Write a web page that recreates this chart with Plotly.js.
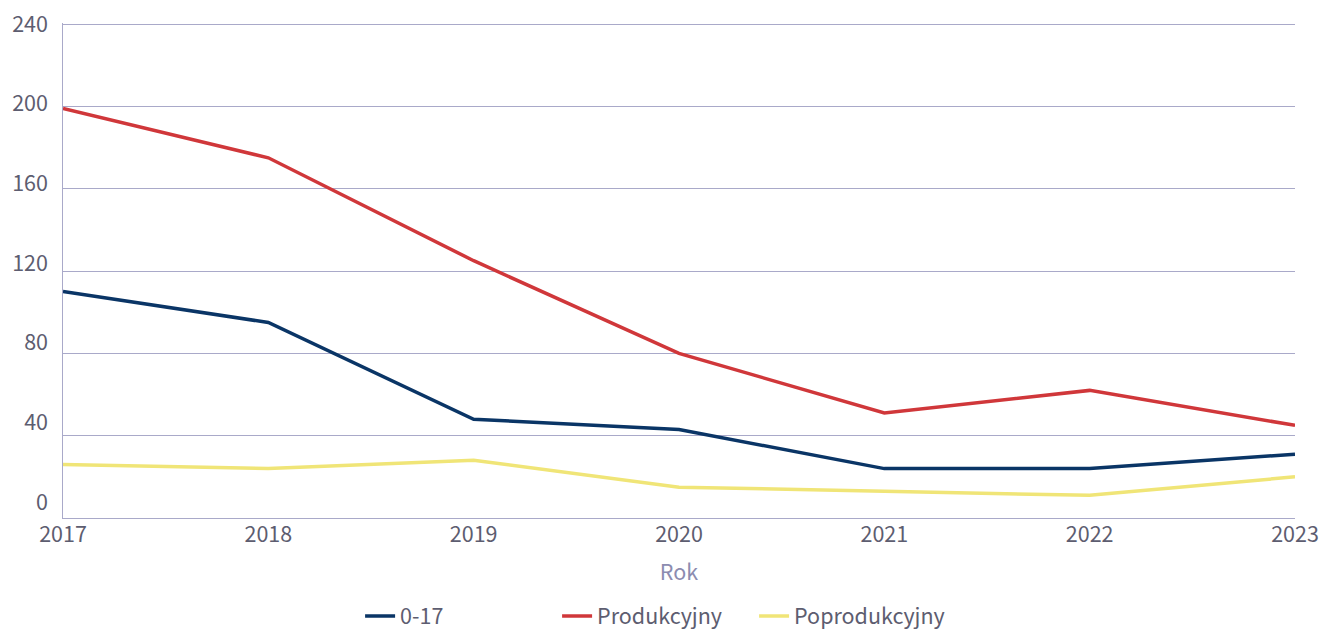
<!DOCTYPE html>
<html>
<head>
<meta charset="utf-8">
<script src="https://cdn.plot.ly/plotly-3.0.1.min.js"></script>
<style>html,body{margin:0;padding:0;background:#fff;}#chart{width:1319px;height:629px;}</style>
</head>
<body>
<div id="chart"></div>
<script>
const years = [2017, 2018, 2019, 2020, 2021, 2022, 2023];
const seriesNames = ['0-17', 'Produkcyjny', 'Poprodukcyjny'];
const kids = [110, 95, 48, 43, 24, 24, 31];
const working = [199, 175, 125, 80, 51, 62, 45];
const retired = [26, 24, 28, 15, 13, 11, 20];
const yTicks = [0, 40, 80, 120, 160, 200, 240];
const colors = ['#0a3566', '#d0373a', '#f0e577'];

const traces = [kids, working, retired].map((vals, i) => ({
  x: years, y: vals, name: seriesNames[i], type: 'scatter', mode: 'lines',
  line: {color: colors[i], width: 3.5}
}));
// empty trace that carries the tick-label axis
traces.push({x: [], y: [], yaxis: 'y2', type: 'scatter', mode: 'lines', showlegend: false, hoverinfo: 'skip'});

const font = 'Noto Sans CJK JP, Noto Sans, sans-serif';
const tickFont = {size: 21.5, color: '#5d5d70'};
const layout = {
  width: 1319, height: 629,
  margin: {l: 63, r: 24, t: 23, b: 111},
  paper_bgcolor: '#fff', plot_bgcolor: '#fff',
  font: {family: font, size: 21.5, color: '#5d5d70'},
  showlegend: true,
  legend: {orientation: 'h', x: 0.481, xanchor: 'center', xref: 'paper',
           y: 13 / 629, yref: 'container', yanchor: 'middle',
           entrywidth: 152, entrywidthmode: 'pixels', font: tickFont},
  xaxis: {range: [2017, 2023], tickvals: years, ticktext: years.map(String), automargin: false,
          showgrid: false, zeroline: false, showline: true, linecolor: '#a9a9c9', linewidth: 1,
          ticks: '', tickfont: tickFont, ticklabelshift: 0, ticklabelstandoff: -3,
          title: {text: 'Rok', font: {size: 21.5, color: '#8c8cb0'}, standoff: 18}},
  yaxis: {range: [0, 240.5], tickvals: yTicks, automargin: false, showticklabels: false,
          showgrid: true, gridcolor: '#a9a9c9', gridwidth: 1, zeroline: false,
          showline: true, linecolor: '#a9a9c9', linewidth: 1, ticks: ''},
  yaxis2: {overlaying: 'y', side: 'left', range: [-8.0335, 240.5], tickvals: yTicks,
           ticktext: yTicks.map(String), automargin: false, showgrid: false, zeroline: false,
           showline: false, ticks: '', tickfont: tickFont, ticklabelstandoff: 14}
};
Plotly.newPlot('chart', traces, layout, {displayModeBar: false, staticPlot: true});
</script>
</body>
</html>
